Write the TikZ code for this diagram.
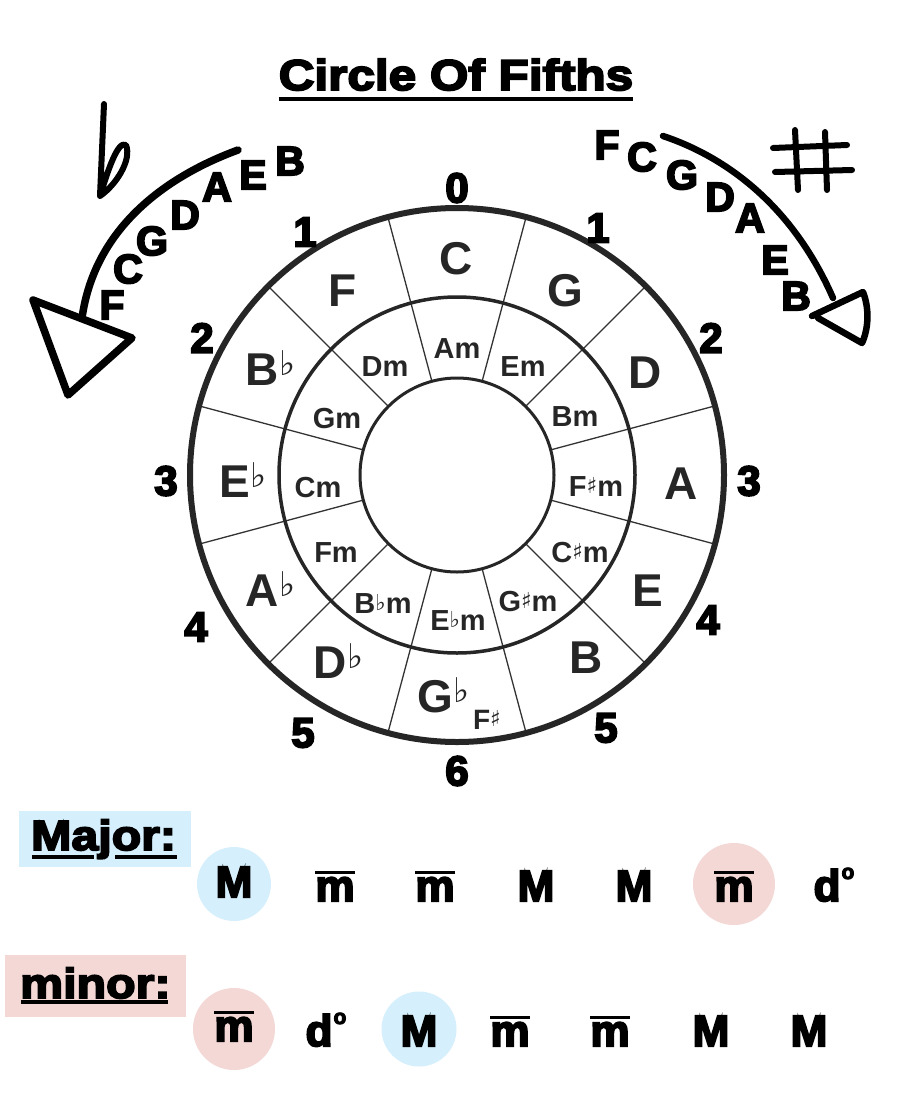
\documentclass[tikz,border=0pt]{standalone}
\usepackage{fontspec}
\setmainfont{Liberation Sans}
\newfontfamily\heavy{Liberation Sans Bold}[FakeBold=4.5,FakeStretch=1.15]
\newfontfamily\heavyB{Liberation Sans Bold}[FakeBold=4.5]
\newfontfamily\keyf{Liberation Sans Bold}
\newfontfamily\sym{DejaVu Sans}
\newcommand\fs[1]{\fontsize{#1}{#1}\selectfont}
\newcommand\bigflat{\rlap{\raisebox{10pt}{\sym\fs{34}\kern0.5pt ♭}}}
\newcommand\smflat{\raisebox{3pt}{\sym\fs{22}♭}}
\newcommand\smsharp{\raisebox{3pt}{\sym\fs{22}♯}}
\newcommand\mbar{\setbox0=\hbox{m}\rlap{\raisebox{0.62em}{\rule{\wd0}{0.07em}}}\box0}
\newcommand\dimch{d\kern1pt\raisebox{0.5em}{\fs{21}o}}
\definecolor{mblue}{RGB}{213,239,252}
\definecolor{mpink}{RGB}{244,216,214}
\begin{document}
\begin{tikzpicture}[x=1pt,y=-1pt,
  major/.style={font=\keyf\fs{46}, text=black!85, inner sep=0, anchor=base},
  minor/.style={font=\keyf\fs{29}, text=black!85, inner sep=0, anchor=base},
  num/.style={font=\heavyB\fs{42}, inner sep=0},
  alet/.style={font=\heavyB\fs{41}, inner sep=0},
  chord/.style={font=\heavyB\fs{44}, inner sep=0, anchor=base},
  hand/.style={line width=7.5, line cap=round, line join=round},
  spoke/.style={line width=1.3, draw=black!80},
  disc/.style={circle, inner sep=0, draw=none},
]
\useasboundingbox (0,0) rectangle (897,1103);
\fill[white] (0,0) rectangle (897,1103);

% title
\node[font=\heavy\fs{43}, inner sep=0, anchor=base] (title) at (456,90) {Circle Of Fifths};
\draw[line width=4] ([yshift=-8.5pt]title.base west) -- ([yshift=-8.5pt]title.base east);

% circle of fifths
\coordinate (c) at (457,475);
\foreach \a in {15,45,...,345}{
  \draw[spoke] (c) ++(\a:97pt) -- ++(\a:170pt);
}
\draw[line width=6, draw=black!85] (c) circle[radius=267pt];
\draw[line width=3.5, draw=black!85] (c) circle[radius=178pt];
\draw[line width=3, draw=black!85] (c) circle[radius=97pt];

% major keys
\node[major] (kC) at (456,274) {C};
\node[major] (kG) at (565,306) {G};
\node[major] (kD) at (645,388) {D};
\node[major] (kA) at (681,499) {A};
\node[major] (kE) at (648,606) {E};
\node[major] (kB) at (586,673) {B};
\node[major] (kGb) at (435,712) {G\bigflat};
\node[font=\keyf\fs{28}, text=black!85, inner sep=0, anchor=base] (kFs) at (487,729) {F\smsharp};
\node[major] (kDb) at (330,678) {D\bigflat};
\node[major] (kAb) at (262,606) {A\bigflat};
\node[major] (kEb) at (235,497) {E\bigflat};
\node[major] (kBb) at (262,385) {B\bigflat};
\node[major] (kF) at (343,306) {F};

% minor keys
\node[minor] (mA) at (457,358) {Am};
\node[minor] (mE) at (523,376) {Em};
\node[minor] (mB) at (575,426) {Bm};
\node[minor] (mFs) at (596,496) {F\smsharp m};
\node[minor] (mCs) at (580,562) {C\smsharp m};
\node[minor] (mGs) at (528,611) {G\smsharp m};
\node[minor] (mEb) at (458,630) {E\smflat m};
\node[minor] (mBb) at (383,613) {B\smflat m};
\node[minor] (mF) at (336,562) {Fm};
\node[minor] (mC) at (318,497) {Cm};
\node[minor] (mG) at (337,428) {Gm};
\node[minor] (mD) at (385,376) {Dm};

% numbers of accidentals
\node[num] (n0) at (457,188) {0};
\node[num] (n1l) at (305,232) {1};
\node[num] (n1r) at (598,228) {1};
\node[num] (n2l) at (202,338) {2};
\node[num] (n2r) at (711,338) {2};
\node[num] (n3l) at (166,481) {3};
\node[num] (n3r) at (749,481) {3};
\node[num] (n4l) at (196,627) {4};
\node[num] (n4r) at (708,620) {4};
\node[num] (n5l) at (303,733) {5};
\node[num] (n5r) at (606,728) {5};
\node[num] (n6) at (457,771) {6};

% flat side arrow
\node[alet] (lF) at (112,305) {F};
\node[alet] (lC) at (128,269) {C};
\node[alet] (lG) at (152,241) {G};
\node[alet] (lD) at (185,215) {D};
\node[alet] (lA) at (217,187) {A};
\node[alet] (lE) at (253,175) {E};
\node[alet] (lB) at (290,161) {B};
\coordinate (ls) at (238,150);
\coordinate (le) at (82,318);
\draw[hand] (ls) .. controls (170,175) and (95,225) .. (le);
\draw[hand] (33,300) -- (132,338) -- (68,395) -- cycle;
% flat sign
\draw[line width=6, line cap=round, line join=round]
  (104,104) -- (100,196) .. controls (108,170) and (118,140) .. (126,145)
  .. controls (132,160) and (116,185) .. (100,196);

% sharp side arrow
\node[alet] (rF) at (607,145) {F};
\node[alet] (rC) at (642,157) {C};
\node[alet] (rG) at (682,175) {G};
\node[alet] (rD) at (720,197) {D};
\node[alet] (rA) at (750,218) {A};
\node[alet] (rE) at (775,260) {E};
\node[alet] (rB) at (796,296) {B};
\coordinate (rs) at (663,136);
\coordinate (re) at (833,298);
\draw[hand, line width=6.5] (rs) .. controls (720,155) and (790,200) .. (re);
\draw[hand, line width=6.5] (812,316) -- (863,292) .. controls (870,310) and (868,330) .. (862,343) -- (818,318);
% sharp sign
\draw[line width=6, line cap=round]
  (795,130) -- (798,190) (825,132) -- (827,190)
  (773,148) -- (847,145) (775,172) -- (852,170);

% legend boxes
\fill[mblue] (19,811) rectangle (191,867);
\node[font=\heavy\fs{42}, inner sep=0, anchor=base west] (majl) at (31,850) {Major:};
\draw[line width=4] (32,857) -- (94,857) (115,857) -- (177,857);
\fill[mpink] (5,955) rectangle (186,1017);
\node[font=\heavy\fs{42}, inner sep=0, anchor=base west] (minl) at (20,998) {minor:};
\draw[line width=4] (21,1002) -- (168,1002);

% row 1
\node[disc, fill=mblue, minimum size=74] (d1) at (234,884) {};
\node[disc, fill=mpink, minimum size=82] (d2) at (734,884) {};
\node[chord] (a1) at (234,897) {M};
\node[chord] (a2) at (335,901) {\mbar};
\node[chord] (a3) at (435,901) {\mbar};
\node[chord] (a4) at (536,901) {M};
\node[chord] (a5) at (634,901) {M};
\node[chord] (a6) at (734,901) {\mbar};
\node[chord] (a7) at (834,901) {\dimch};

% row 2
\node[disc, fill=mpink, minimum size=82] (d3) at (234,1029) {};
\node[disc, fill=mblue, minimum size=75] (d4) at (419,1029) {};
\node[chord] (b1) at (234,1041) {\mbar};
\node[chord] (b2) at (326,1046) {\dimch};
\node[chord] (b3) at (419,1046) {M};
\node[chord] (b4) at (510,1046) {\mbar};
\node[chord] (b5) at (610,1046) {\mbar};
\node[chord] (b6) at (711,1046) {M};
\node[chord] (b7) at (809,1046) {M};
\end{tikzpicture}
\end{document}
